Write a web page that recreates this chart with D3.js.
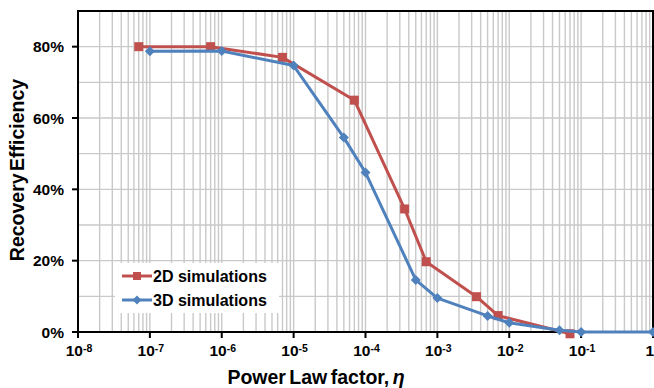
<!DOCTYPE html>
<html>
<head>
<meta charset="utf-8">
<script src="https://cdn.jsdelivr.net/npm/d3@7"></script>
<style>
  body { margin: 0; background: #fff; }
  svg { display: block; }
  text { font-family: "Liberation Sans", Arial, sans-serif; font-weight: bold; fill: #000; }
</style>
</head>
<body>
<svg id="chart" width="654" height="388"></svg>
<script>
// Recovery efficiency vs power-law factor
const eta2D = [7e-8, 7e-7, 7e-6, 7e-5, 3.5e-4, 7e-4, 3.5e-3, 7e-3, 7e-2];
const eff2D = [0.80, 0.80, 0.77, 0.65, 0.345, 0.197, 0.099, 0.046, -0.005];
const eta3D = [1e-7, 1e-6, 1e-5, 5e-5, 1e-4, 5e-4, 1e-3, 5e-3, 1e-2, 5e-2, 1e-1, 1];
const eff3D = [0.787, 0.788, 0.747, 0.545, 0.447, 0.146, 0.095, 0.045, 0.026, 0.005, 0, 0];
const seriesNames = ["2D simulations", "3D simulations"];
const xTickExps = [-8, -7, -6, -5, -4, -3, -2, -1, 0];
const yTickValues = [0, 0.2, 0.4, 0.6, 0.8];
const yGridValues = [0.1, 0.2, 0.3, 0.4, 0.5, 0.6, 0.7, 0.8];

const colors = { red: "#C0504D", blue: "#4F81BD" };
const m = { left: 78, right: 653, top: 11, bottom: 332 };

const svg = d3.select("#chart");
const x = d3.scaleLog().domain([1e-8, 1]).range([m.left, m.right]);
const y = d3.scaleLinear().domain([0, 0.9]).range([m.bottom, m.top]);

// log grid: major decades + minor 2..9
const vGrid = [];
for (let e = -8; e < 0; e++) {
  for (let k = 1; k <= 9; k++) vGrid.push(k * Math.pow(10, e));
}
vGrid.push(1);

const grid = svg.append("g").attr("stroke", "#c9c9c9").attr("stroke-width", 1.4);
grid.selectAll("line.v").data(vGrid).join("line")
  .attr("x1", d => x(d)).attr("x2", d => x(d))
  .attr("y1", m.top).attr("y2", m.bottom);
grid.selectAll("line.h").data(yGridValues).join("line")
  .attr("x1", m.left).attr("x2", m.right)
  .attr("y1", d => y(d)).attr("y2", d => y(d));

// legend backdrop covers the grid
svg.append("rect").attr("x", 115).attr("y", 263).attr("width", 164).attr("height", 50).attr("fill", "#fff");

// plot frame
svg.append("rect")
  .attr("x", m.left).attr("y", m.top)
  .attr("width", m.right - m.left).attr("height", m.bottom - m.top)
  .attr("fill", "none").attr("stroke", "#000").attr("stroke-width", 2);

// y axis ticks & labels
const yAxis = svg.append("g");
yAxis.selectAll("line").data(yTickValues).join("line")
  .attr("x1", m.left - 6).attr("x2", m.left)
  .attr("y1", d => y(d)).attr("y2", d => y(d))
  .attr("stroke", "#000").attr("stroke-width", 2);
yAxis.selectAll("text").data(yTickValues).join("text")
  .attr("x", 64).attr("y", d => y(d)).attr("dy", "0.36em")
  .attr("text-anchor", "end").attr("font-size", 15.5)
  .text(d => d3.format(".0%")(d));

// x axis ticks & labels
const xAxis = svg.append("g");
xAxis.selectAll("line").data(xTickExps).join("line")
  .attr("x1", d => x(Math.pow(10, d))).attr("x2", d => x(Math.pow(10, d)))
  .attr("y1", m.bottom).attr("y2", m.bottom + 6)
  .attr("stroke", "#000").attr("stroke-width", 2);
const xl = xAxis.selectAll("text").data(xTickExps).join("text")
  .attr("x", d => d === 0 ? 654 : x(Math.pow(10, d)) + 1).attr("y", 356)
  .attr("text-anchor", d => d === 0 ? "end" : "middle").attr("font-size", 15.5);
xl.each(function (d) {
  const t = d3.select(this);
  if (d === 0) { t.text("1"); return; }
  t.append("tspan").text("10");
  t.append("tspan").attr("font-size", 10.5).attr("dy", -4).text("-" + Math.abs(d));
});

// axis titles
svg.append("text")
  .attr("transform", "translate(24,170) rotate(-90)")
  .attr("text-anchor", "middle").attr("font-size", 19.5).attr("word-spacing", -3)
  .text("Recovery Efficiency");
const xt = svg.append("text")
  .attr("x", 316).attr("y", 384).attr("text-anchor", "middle")
  .attr("font-size", 19.5).attr("word-spacing", -2);
xt.append("tspan").text("Power Law factor, ");
xt.append("tspan").attr("font-style", "italic").text("η");

// series
const line = d3.line().x(d => x(d[0])).y(d => y(d[1]));
const data2D = eta2D.map((e, i) => [e, eff2D[i]]);
const data3D = eta3D.map((e, i) => [e, eff3D[i]]);

const sq = 9;
const diamond = (cx, cy, r) => `M${cx},${cy - r}L${cx + r},${cy}L${cx},${cy + r}L${cx - r},${cy}Z`;

svg.append("path").datum(data2D).attr("d", line)
  .attr("fill", "none").attr("stroke", colors.red).attr("stroke-width", 3).attr("stroke-linejoin", "round");
svg.append("g").selectAll("rect").data(data2D).join("rect")
  .attr("x", d => x(d[0]) - sq / 2).attr("y", d => y(d[1]) - sq / 2)
  .attr("width", sq).attr("height", sq).attr("fill", colors.red);

svg.append("path").datum(data3D).attr("d", line)
  .attr("fill", "none").attr("stroke", colors.blue).attr("stroke-width", 3).attr("stroke-linejoin", "round");
svg.append("g").selectAll("path").data(data3D).join("path")
  .attr("d", d => diamond(x(d[0]), y(d[1]), 5)).attr("fill", colors.blue);

// legend
const legend = svg.append("g");
[[colors.red, 276, "sq"], [colors.blue, 300, "dia"]].forEach(([c, ly, mk], i) => {
  legend.append("line").attr("x1", 122).attr("x2", 152).attr("y1", ly).attr("y2", ly)
    .attr("stroke", c).attr("stroke-width", 3);
  if (mk === "sq") {
    legend.append("rect").attr("x", 137 - 4).attr("y", ly - 4)
      .attr("width", 8).attr("height", 8).attr("fill", c);
  } else {
    legend.append("path").attr("d", diamond(137, ly, 4.5)).attr("fill", c);
  }
  legend.append("text").attr("x", 153).attr("y", ly).attr("dy", "0.36em")
    .attr("font-size", 16).text(seriesNames[i]);
});
</script>
</body>
</html>
